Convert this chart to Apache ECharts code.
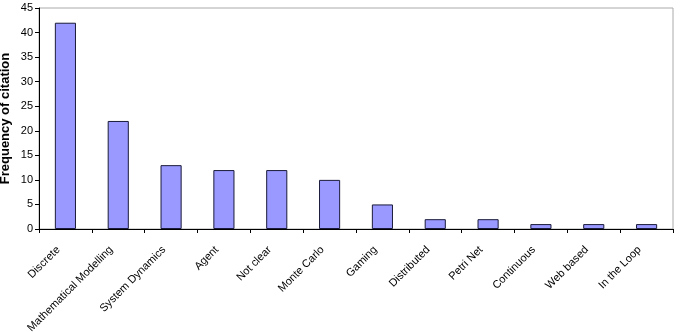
<!DOCTYPE html>
<html><head><meta charset="utf-8">
<script src="https://cdn.jsdelivr.net/npm/echarts@6/dist/echarts.min.js"></script>
<style>html,body{margin:0;padding:0;background:#fff}#c{width:680px;height:332px}</style>
</head><body><div id="c"></div>
<script>
const categories = ["Discrete","Mathematical Modelling","System Dynamics","Agent","Not clear","Monte Carlo","Gaming","Distributed","Petri Net","Continuous","Web based","In the Loop"];
const values = [42,22,13,12,12,10,5,2,2,1,1,1];
const yTicks = [0,5,10,15,20,25,30,35,40,45];

const chart = echarts.init(document.getElementById('c'), null, {renderer:'canvas'});
chart.setOption({
  animation:false,
  grid:{left:39,right:7,top:8,bottom:103,outerBoundsMode:'none',containLabel:false,show:true,borderColor:'#aaaaaa',borderWidth:1,backgroundColor:'#fff'},
  xAxis:{
    type:'category', data:categories,
    axisLine:{lineStyle:{color:'#000',width:1}},
    axisTick:{show:true,alignWithLabel:false,length:4,inside:false,lineStyle:{color:'#000'}},
    axisLabel:{interval:0,rotate:45,fontFamily:'Liberation Sans, Arial',fontSize:11,color:'#000',margin:12,padding:[0,10,0,0]}
  },
  yAxis:{
    type:'value', min:yTicks[0], max:yTicks[yTicks.length-1], interval:5,
    name:'Frequency of citation', nameLocation:'middle', nameGap:27, nameMoveOverlap:false,
    nameTextStyle:{fontFamily:'Liberation Sans, Arial',fontSize:13,fontWeight:'bold',color:'#000'},
    axisLine:{show:true,lineStyle:{color:'#000',width:1}},
    axisTick:{show:true,length:4,lineStyle:{color:'#000'}},
    splitLine:{show:false},
    axisLabel:{fontFamily:'Liberation Sans, Arial',fontSize:11,color:'#000',margin:6}
  },
  series:[{
    type:'bar', data:values, barWidth:'40%',
    itemStyle:{color:'#9999ff',borderColor:'#1a1a3a',borderWidth:1}
  }]
});
</script></body></html>
